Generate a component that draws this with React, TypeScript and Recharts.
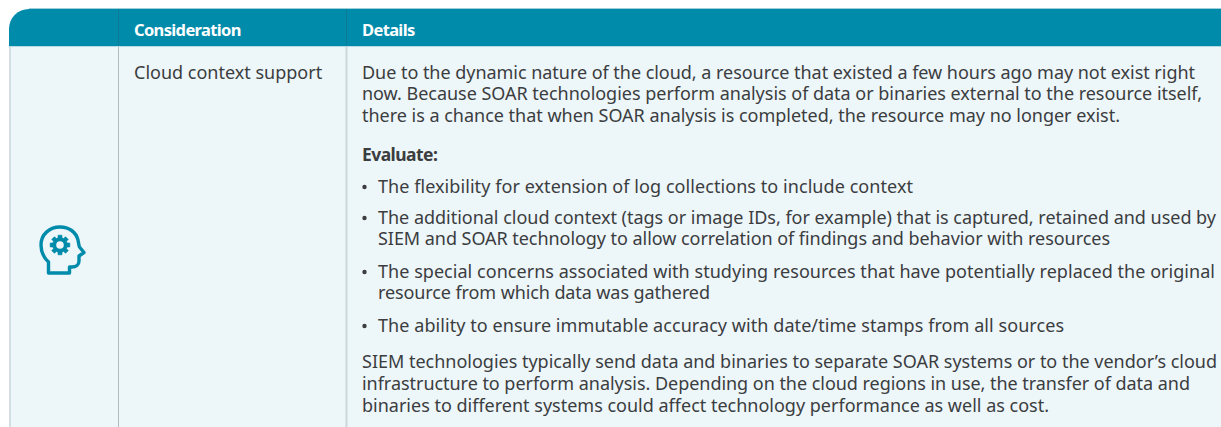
import React from "react";
import { ComposedChart, XAxis, YAxis, ReferenceArea, ReferenceLine, ReferenceDot, Line } from "recharts";

const headerLabels = ["Consideration", "Details"];
const rowLabel = "Cloud context support";
const intro = [
  "Due to the dynamic nature of the cloud, a resource that existed a few hours ago may not exist right",
  "now. Because SOAR technologies perform analysis of data or binaries external to the resource itself,",
  "there is a chance that when SOAR analysis is completed, the resource may no longer exist.",
];
const evaluate = "Evaluate:";
const bullets = [
  ["The flexibility for extension of log collections to include context"],
  [
    "The additional cloud context (tags or image IDs, for example) that is captured, retained and used by",
    "SIEM and SOAR technology to allow correlation of findings and behavior with resources",
  ],
  [
    "The special concerns associated with studying resources that have potentially replaced the original",
    "resource from which data was gathered",
  ],
  ["The ability to ensure immutable accuracy with date/time stamps from all sources"],
];
const closing = [
  "SIEM technologies typically send data and binaries to separate SOAR systems or to the vendor\u2019s cloud",
  "infrastructure to perform analysis. Depending on the cloud regions in use, the transfer of data and",
  "binaries to different systems could affect technology performance as well as cost.",
];

const W = 1221;
const H = 427;
const FONT = "'Noto Sans', sans-serif";
const INK = "#3b3d3f";
const TEAL = "#008bab";
const BODY = "#edf6f9";

// layout only: baselines and fitted widths of each text line
const introY = [78.5, 100, 121.5];
const introLen = [833, 840, 758];
const evalY = 160.5;
const bulletY = [[192.5], [223.5, 245], [277.5, 299], [331.5]];
const bulletLen = [[535], [838, 732], [837, 332], [686]];
const closingY = [368, 390, 411.5];
const closingLen = [855, 828, 687];

const seriesData = [{ x: 0, y: 0 }];

type Style = { bold?: boolean; fill?: string; size?: number; spacing?: number; len?: number };

const textShape = (t: string, s: Style) => (props: any) => (
  <text
    x={props.cx}
    y={props.cy}
    fontFamily={FONT}
    fontSize={s.size ?? 18}
    fontWeight={s.bold ? 700 : 400}
    fill={s.fill ?? INK}
    letterSpacing={s.spacing ?? 0}
    {...(s.len ? { textLength: s.len, lengthAdjust: "spacing" } : {})}
  >
    {t}
  </text>
);

const bulletShape = (props: any) => <circle cx={props.cx} cy={props.cy} r={2.2} fill={INK} />;

function textDot(key: string, x: number, y: number, t: string, s: Style = {}) {
  return <ReferenceDot key={key} x={x} y={y} r={1} ifOverflow="visible" shape={textShape(t, s)} />;
}

function gearPath(cx: number, cy: number) {
  const pts: string[] = [];
  const teeth = 8;
  for (let i = 0; i < teeth; i++) {
    const a = (i / teeth) * Math.PI * 2 - Math.PI / 2;
    const w = 0.2;
    const ro = 10;
    const ri = 7.4;
    const p = (r: number, t: number) => `${(cx + r * Math.cos(t)).toFixed(2)} ${(cy + r * Math.sin(t)).toFixed(2)}`;
    pts.push(`${i === 0 ? "M" : "L"}${p(ri, a - w - 0.07)}`, `L${p(ro, a - w)}`, `L${p(ro, a + w)}`, `L${p(ri, a + w + 0.07)}`);
  }
  return pts.join(" ") + " Z";
}

function IconShape() {
  return (
    <g>
      <path
        fill="none"
        stroke={TEAL}
        strokeWidth={3.4}
        strokeLinejoin="round"
        strokeLinecap="round"
        d="M48.5 273 L48.5 262 C43 257 41 251 41 245 C41 234 50 227 60 227 C69 227 76 232 78 240 C78.5 243 79 246 79.5 247 L84 252.5 L79 256 L79 261 C79 265 76 267 72 267 L69.5 267 L69.5 273 Z"
      />
      <path d={gearPath(60, 245)} fill={TEAL} stroke={TEAL} strokeWidth={0.6} strokeLinejoin="round" />
      <circle cx={60} cy={245} r={3.8} fill={BODY} />
    </g>
  );
}

function HeaderShape(props: any) {
  const { x, y, width, height } = props;
  const r = 20;
  return (
    <path
      d={`M${x} ${y + height} L${x} ${y + r} A${r} ${r} 0 0 1 ${x + r} ${y} L${x + width} ${y} L${x + width} ${y + height} Z`}
      fill={TEAL}
    />
  );
}

const HEAD: Style = { bold: true, fill: "#fff", size: 16.5, spacing: -0.65 };

export default function App() {
  return (
    <div style={{ position: "absolute", left: 0, top: 0, width: W, height: H, overflow: "hidden", background: "#fff" }}>
      <ComposedChart width={W} height={H} data={seriesData} margin={{ top: 0, right: 0, bottom: 0, left: 0 }}>
        <XAxis type="number" dataKey="x" domain={[0, W]} hide allowDataOverflow />
        <YAxis type="number" domain={[0, H]} reversed hide allowDataOverflow />
        <ReferenceArea x1={9} x2={W} y1={46} y2={H} fill={BODY} fillOpacity={1} stroke="none" />
        <ReferenceLine segment={[{ x: 29, y: 8.5 }, { x: W, y: 8.5 }]} stroke="#9fcfdb" />
        <ReferenceArea x1={9} x2={W} y1={9} y2={46} shape={<HeaderShape />} />
        <ReferenceLine segment={[{ x: 118.5, y: 9 }, { x: 118.5, y: 46 }]} stroke="#0b7a95" />
        <ReferenceLine segment={[{ x: 346.5, y: 9 }, { x: 346.5, y: 46 }]} stroke="#0b7a95" />
        <ReferenceLine segment={[{ x: 10, y: 46 }, { x: 10, y: H }]} stroke="#d3dee3" strokeWidth={2} />
        <ReferenceLine segment={[{ x: 118.5, y: 46 }, { x: 118.5, y: H }]} stroke="#aebcc2" />
        <ReferenceLine segment={[{ x: 346.5, y: 46 }, { x: 346.5, y: H }]} stroke="#ccd7dc" strokeWidth={2} />
        <ReferenceLine segment={[{ x: 9, y: 46.5 }, { x: W, y: 46.5 }]} stroke="#b5dbe5" />
        <Line dataKey="y" isAnimationActive={false} dot={false} stroke="none" />
        <ReferenceArea x1={30} x2={90} y1={220} y2={280} shape={<IconShape />} />
        {textDot("h0", 134, 35.5, headerLabels[0], HEAD)}
        {textDot("h1", 362, 35.5, headerLabels[1], HEAD)}
        {textDot("row", 134, 78.5, rowLabel)}
        {intro.map((t, i) => textDot(`i${i}`, 362, introY[i], t, { len: introLen[i] }))}
        {textDot("ev", 362, evalY, evaluate, { bold: true, size: 17.5, spacing: -0.55 })}
        {bullets.map((lines, i) => (
          <ReferenceDot key={`b${i}`} x={364.5} y={bulletY[i][0] - 5.5} r={2} ifOverflow="visible" shape={bulletShape} />
        ))}
        {bullets.flatMap((lines, i) =>
          lines.map((t, j) => textDot(`l${i}-${j}`, 378, bulletY[i][j], t, { len: bulletLen[i][j] }))
        )}
        {closing.map((t, i) => textDot(`c${i}`, 362, closingY[i], t, { len: closingLen[i] }))}
      </ComposedChart>
    </div>
  );
}
